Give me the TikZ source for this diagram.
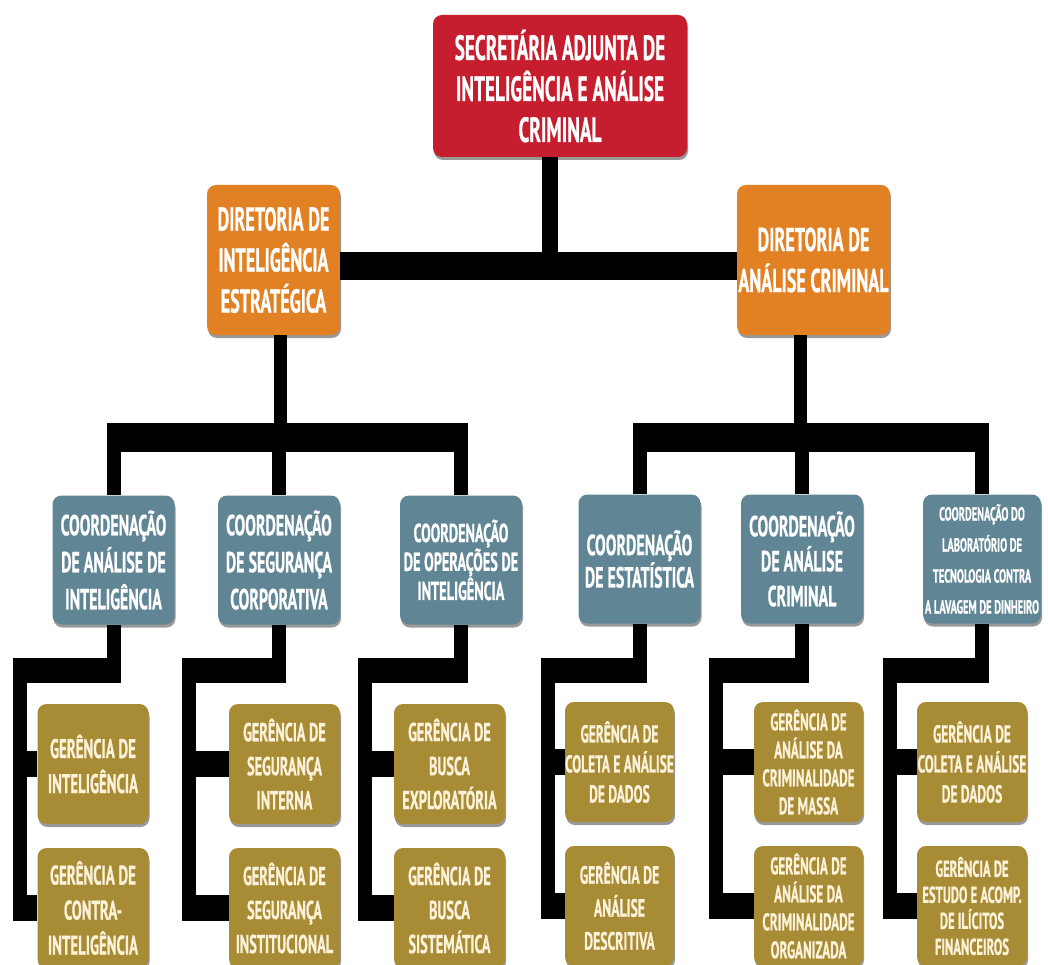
\documentclass[tikz,border=0pt]{standalone}
\usepackage{fontspec}
\setmainfont{PT Sans}[FakeStretch=0.55, BoldFeatures={FakeBold=0.6}]
\usetikzlibrary{calc,shadows}
\definecolor{redbox}{RGB}{198,30,46}
\definecolor{orangebox}{RGB}{226,128,36}
\definecolor{slatebox}{RGB}{96,134,149}
\definecolor{goldbox}{RGB}{167,139,53}
\definecolor{creamtext}{RGB}{252,242,218}
\begin{document}
\begin{tikzpicture}[x=1pt,y=-1pt,
  box/.style={rounded corners=9pt, align=center, inner sep=0pt, text=white,
    drop shadow={shadow xshift=1pt, shadow yshift=-3pt, fill=black, opacity=0.4}},
  redb/.style={box, fill=redbox, minimum width=254pt, minimum height=142pt,
    font=\bfseries\fontsize{35}{41}\selectfont},
  orab/.style={box, fill=orangebox, minimum height=150pt,
    font=\bfseries\fontsize{33}{41}\selectfont},
  coob/.style={box, fill=slatebox, minimum width=122pt, minimum height=129pt,
    font=\bfseries\fontsize{29}{37}\selectfont},
  gerb/.style={box, fill=goldbox, text=creamtext, minimum width=111pt, minimum height=120pt,
    font=\bfseries\fontsize{27}{35}\selectfont},
  bar/.style={draw=black, line width=#1, line cap=butt},
]
\clip (0,0) rectangle (1048,965);
\fill[white] (0,0) rectangle (1048,965);

% ---------- nodes ----------
\node[redb] (top) at (560,86) {SECRETÁRIA ADJUNTA DE\\INTELIGÊNCIA E ANÁLISE\\CRIMINAL};
\node[orab, minimum width=133pt] (dirL) at (273.5,260) {DIRETORIA DE\\INTELIGÊNCIA\\ESTRATÉGICA};
\node[orab, minimum width=153pt] (dirR) at (813.5,260) {DIRETORIA DE\\ANÁLISE CRIMINAL};

\node[coob] (c1) at (113.5,560) {COORDENAÇÃO\\DE ANÁLISE DE\\INTELIGÊNCIA};
\node[coob] (c2) at (279,560) {COORDENAÇÃO\\DE SEGURANÇA\\CORPORATIVA};
\node[coob, font=\bfseries\fontsize{26}{27}\selectfont] (c3) at (461,560) {COORDENAÇÃO\\DE OPERAÇÕES DE\\INTELIGÊNCIA};
\node[coob, font=\bfseries\fontsize{29}{31}\selectfont] (c4) at (639.5,559) {COORDENAÇÃO\\DE ESTATÍSTICA};
\node[coob, font=\bfseries\fontsize{29}{35}\selectfont] (c5) at (802,559) {COORDENAÇÃO\\DE ANÁLISE\\CRIMINAL};
\node[coob, minimum width=118pt, font=\bfseries\fontsize{19}{31}\selectfont] (c6) at (982,559) {COORDENAÇÃO DO\\LABORATÓRIO DE\\TECNOLOGIA CONTRA\\A LAVAGEM DE DINHEIRO};

\node[gerb] (g1a) at (93,764) {GERÊNCIA DE\\INTELIGÊNCIA};
\node[gerb] (g1b) at (93,908) {GERÊNCIA DE\\CONTRA-\\INTELIGÊNCIA};
\node[gerb, font=\bfseries\fontsize{26}{34}\selectfont] (g2a) at (284.5,764) {GERÊNCIA DE\\SEGURANÇA\\INTERNA};
\node[gerb, font=\bfseries\fontsize{26}{34}\selectfont] (g2b) at (284.5,908) {GERÊNCIA DE\\SEGURANÇA\\INSTITUCIONAL};
\node[gerb, font=\bfseries\fontsize{26}{34}\selectfont] (g3a) at (449.5,764) {GERÊNCIA DE\\BUSCA\\EXPLORATÓRIA};
\node[gerb, font=\bfseries\fontsize{26}{34}\selectfont] (g3b) at (449.5,908) {GERÊNCIA DE\\BUSCA\\SISTEMÁTICA};
\node[gerb, minimum width=109pt, font=\bfseries\fontsize{24.5}{30}\selectfont] (g4a) at (619.5,762) {GERÊNCIA DE\\COLETA E ANÁLISE\\DE DADOS};
\node[gerb, minimum width=109pt, font=\bfseries\fontsize{25}{33}\selectfont] (g4b) at (619.5,906) {GERÊNCIA DE\\ANÁLISE\\DESCRITIVA};
\node[gerb, minimum width=109pt, font=\bfseries\fontsize{24}{28}\selectfont] (g5a) at (808.5,762) {GERÊNCIA DE\\ANÁLISE DA\\CRIMINALIDADE\\DE MASSA};
\node[gerb, minimum width=109pt, font=\bfseries\fontsize{24}{28}\selectfont] (g5b) at (808.5,906) {GERÊNCIA DE\\ANÁLISE DA\\CRIMINALIDADE\\ORGANIZADA};
\node[gerb, minimum width=110pt, font=\bfseries\fontsize{24.5}{30}\selectfont] (g6a) at (972,762) {GERÊNCIA DE\\COLETA E ANÁLISE\\DE DADOS};
\node[gerb, minimum width=110pt, font=\bfseries\fontsize{23}{26}\selectfont] (g6b) at (972,906) {GERÊNCIA DE\\ESTUDO E ACOMP.\\DE ILÍCITOS\\FINANCEIROS};

% ---------- connectors ----------
\coordinate (t) at (550,266);
\draw[bar=16pt] (top.south -| t) -- (t);
\draw[bar=28pt] (dirL.east |- t) -- (dirR.west |- t);

\coordinate (l2) at (280,437.5);
\draw[bar=13pt] (dirL.south -| l2) -- (l2);
\draw[bar=29pt] ($(c1.north |- l2)+(-7,0)$) -- ($(c3.north |- l2)+(7,0)$);
\foreach \c in {c1,c2,c3} \draw[bar=14pt] (\c.north |- l2) -- (\c.north);

\coordinate (r2) at (800.5,437.5);
\draw[bar=13pt] (dirR.south -| r2) -- (r2);
\draw[bar=29pt] ($(c4.north |- r2)+(-7,0)$) -- ($(c6.north |- r2)+(7,0)$);
\foreach \c in {c4,c5,c6} \draw[bar=14pt] (\c.north |- r2) -- (\c.north);

\foreach \c/\a/\b/\vx in {c1/g1a/g1b/20, c2/g2a/g2b/189, c3/g3a/g3b/365,
                          c4/g4a/g4b/547.5, c5/g5a/g5b/715.5, c6/g6a/g6b/889.5}{
  \coordinate (v) at (\vx,670);
  \draw[bar=14pt] (\c.south) -- (\c.south |- v);
  \draw[bar=25pt] ($(\c.south |- v)+(7,0)$) -- ($(v)+(-7,0)$);
  \draw[bar=14pt] ($(v)+(0,-12.5)$) -- ($(v |- \b.west)+(0,13)$);
  \draw[bar=26pt] ($(v |- \a.west)+(-7,0)$) -- (\a.west);
  \draw[bar=26pt] ($(v |- \b.west)+(-7,0)$) -- (\b.west);
}
\end{tikzpicture}
\end{document}
